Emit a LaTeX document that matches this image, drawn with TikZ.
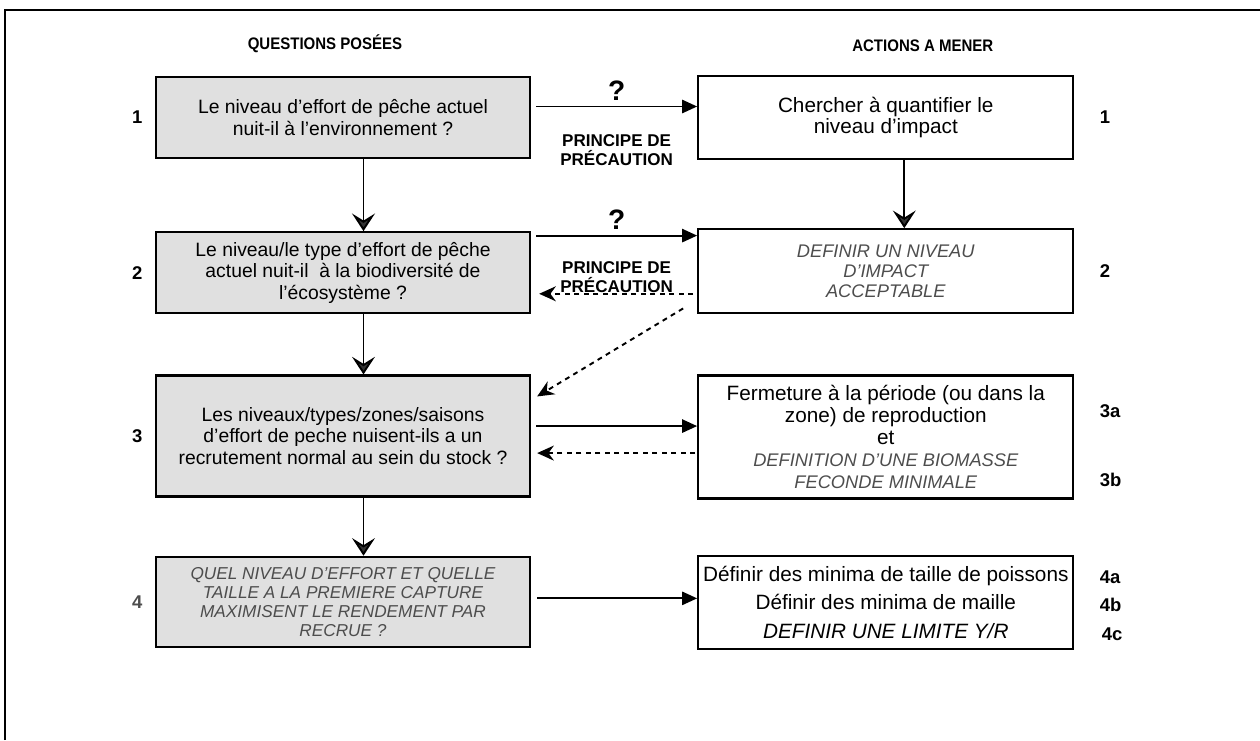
\documentclass[tikz,border=0pt]{standalone}
\usepackage{fontspec}
\setmainfont{Liberation Sans}
\newfontfamily\narrowsans[FakeStretch=0.9]{Liberation Sans}
\usepackage{tikz}
\usetikzlibrary{positioning,arrows.meta}
\definecolor{boxgray}{HTML}{E0E0E0}
\definecolor{textgray}{HTML}{4D4D4D}
\newcommand{\greyit}{\fontsize{10.4}{12.5}\selectfont\itshape\color{textgray}}

\begin{document}
\begin{tikzpicture}[
    question/.style={draw, line width=1.3pt, fill=boxgray, minimum width=7.48cm, align=center, inner sep=2pt, font=\fontsize{11}{12.2}\selectfont},
    action/.style={draw, line width=1.3pt, minimum width=7.5cm, align=center, inner sep=2pt, font=\fontsize{11.8}{12.5}\selectfont},
    flow/.style={-{Triangle[length=8.5pt,width=7.5pt]}, line width=1.1pt},
    back/.style={-{Stealth[length=9.5pt,width=8.5pt]}, line width=1.1pt, dash pattern=on 2.8pt off 2.6pt},
    down/.style={-{Stealth[length=10pt,width=13pt,inset=4pt,fill=black!80]}, line width=1.1pt},
    num/.style={font=\fontsize{10.5}{12}\selectfont\bfseries, inner sep=0pt},
    head/.style={font=\narrowsans\fontsize{9.5}{10.5}\selectfont\bfseries, inner sep=0pt},
    prec/.style={font=\fontsize{9.7}{11}\selectfont\bfseries, align=center, inner sep=0pt},
    qmark/.style={font=\fontsize{16}{17}\selectfont\bfseries, inner sep=0pt}]
    \useasboundingbox (0,0) rectangle (25.2,-14.8);
    \draw[line width=1.2pt] (0.1,-14.8) -- (0.1,-0.2) -- (25.2,-0.2);
    % questions
    \node(q1) [question, minimum height=1.62cm] at (6.86,-2.35) {Le niveau d’effort de pêche actuel\\nuit-il à l’environnement ?};
    \node(q2) [question, minimum height=1.62cm, below=1.44cm of q1] {Le niveau/le type d’effort de pêche\\actuel nuit-il\ \ à la biodiversité de\\l’écosystème ?};
    \node(q3) [question, minimum height=2.42cm, below=1.2cm of q2] {Les niveaux/types/zones/saisons\\d’effort de peche nuisent-ils a un\\recrutement normal au sein du stock ?};
    \node(q4) [question, minimum height=1.8cm, below=1.16cm of q3, font=\fontsize{9.8}{10.9}\selectfont\itshape, text=textgray] {QUEL NIVEAU D’EFFORT ET QUELLE\\TAILLE A LA PREMIERE CAPTURE\\MAXIMISENT LE RENDEMENT PAR\\RECRUE ?};
    % actions
    \node(a1) [action, minimum height=1.66cm, right=3.32cm of q1] {Chercher à quantifier le\\niveau d’impact};
    \node(a2) [action, minimum height=1.68cm, below=1.36cm of a1, font=\fontsize{10.4}{11.4}\selectfont\itshape, text=textgray] {DEFINIR UN NIVEAU\\D’IMPACT\\ACCEPTABLE};
    \node(a3) [action, minimum height=2.46cm, below=1.2cm of a2] {Fermeture à la période (ou dans la\\zone) de reproduction\\et\\{\greyit DEFINITION D’UNE BIOMASSE}\\{\greyit FECONDE MINIMALE}};
    \node(a4) [action, minimum height=1.86cm, below=1.1cm of a3, font=\fontsize{11.8}{16.4}\selectfont] {Définir des minima de taille de poissons\\Définir des minima de maille\\\textit{DEFINIR UNE LIMITE Y/R}};
    % headings and numbers
    \node(qhead) [head, above=0.45cm of q1, xshift=-0.36cm] {QUESTIONS POSÉES};
    \node(ahead) [head, above=0.45cm of a1, xshift=0.74cm] {ACTIONS A MENER};
    \node(n1) [num, left=0.24cm of q1] {1};
    \node(n2) [num, left=0.24cm of q2] {2};
    \node(n3) [num, left=0.24cm of q3] {3};
    \node(n4) [num, left=0.24cm of q4, text=textgray] {4};
    \node(m1) [num, right=0.5cm of a1] {1};
    \node(m2) [num, right=0.5cm of a2] {2};
    \node(m3a) [num, right=0.5cm of a3.north east, yshift=-0.74cm] {3a};
    \node(m3b) [num, right=0.5cm of a3.south east, yshift=0.4cm] {3b};
    \node(m4a) [num, right=0.5cm of a4, yshift=0.5cm] {4a};
    \node(m4b) [num, right=0.5cm of a4, yshift=-0.06cm] {4b};
    \node(m4c) [num, right=0.54cm of a4, yshift=-0.64cm] {4c};
    % arrows
    \draw[flow] ([shift={(0.1,0.22)}]q1.east) coordinate(s1) -- (s1 -| a1.west)
        node[midway,above=3pt,qmark] {?}
        node[midway,below=0.54cm,prec] {PRINCIPE DE\\PRÉCAUTION};
    \draw[flow] ([shift={(0.1,0.744)}]q2.east) coordinate(s2) -- (s2 -| a2.west)
        node[midway,above=3pt,qmark] {?}
        node[midway,below=0.5cm,prec] {PRINCIPE DE\\PRÉCAUTION};
    \draw[back] ([shift={(-0.08,-0.45)}]a2.west) coordinate(b2) -- ([xshift=0.16cm]b2 -| q2.east);
    \draw[back] ([shift={(-0.28,0.12)}]a2.south west) -- ([shift={(0.12,-0.44)}]q3.north east);
    \draw[flow] ([shift={(0.1,0.2)}]q3.east) coordinate(s3) -- (s3 -| a3.west);
    \draw[back] ([shift={(-0.04,-0.32)}]a3.west) coordinate(b3) -- ([xshift=0.12cm]b3 -| q3.east);
    \draw[flow] ([shift={(0.12,0.07)}]q4.east) coordinate(s4) -- (s4 -| a4.west);
    \draw[down] ([xshift=0.41cm]q1.south) coordinate(d1) -- (d1 |- q2.north);
    \draw[down] ([xshift=0.41cm]q2.south) coordinate(d2) -- (d2 |- q3.north);
    \draw[down] ([xshift=0.41cm]q3.south) coordinate(d3) -- (d3 |- q4.north);
    \draw[down] ([xshift=0.37cm]a1.south) coordinate(d4) -- (d4 |- a2.north);
  \end{tikzpicture}
\end{document}
